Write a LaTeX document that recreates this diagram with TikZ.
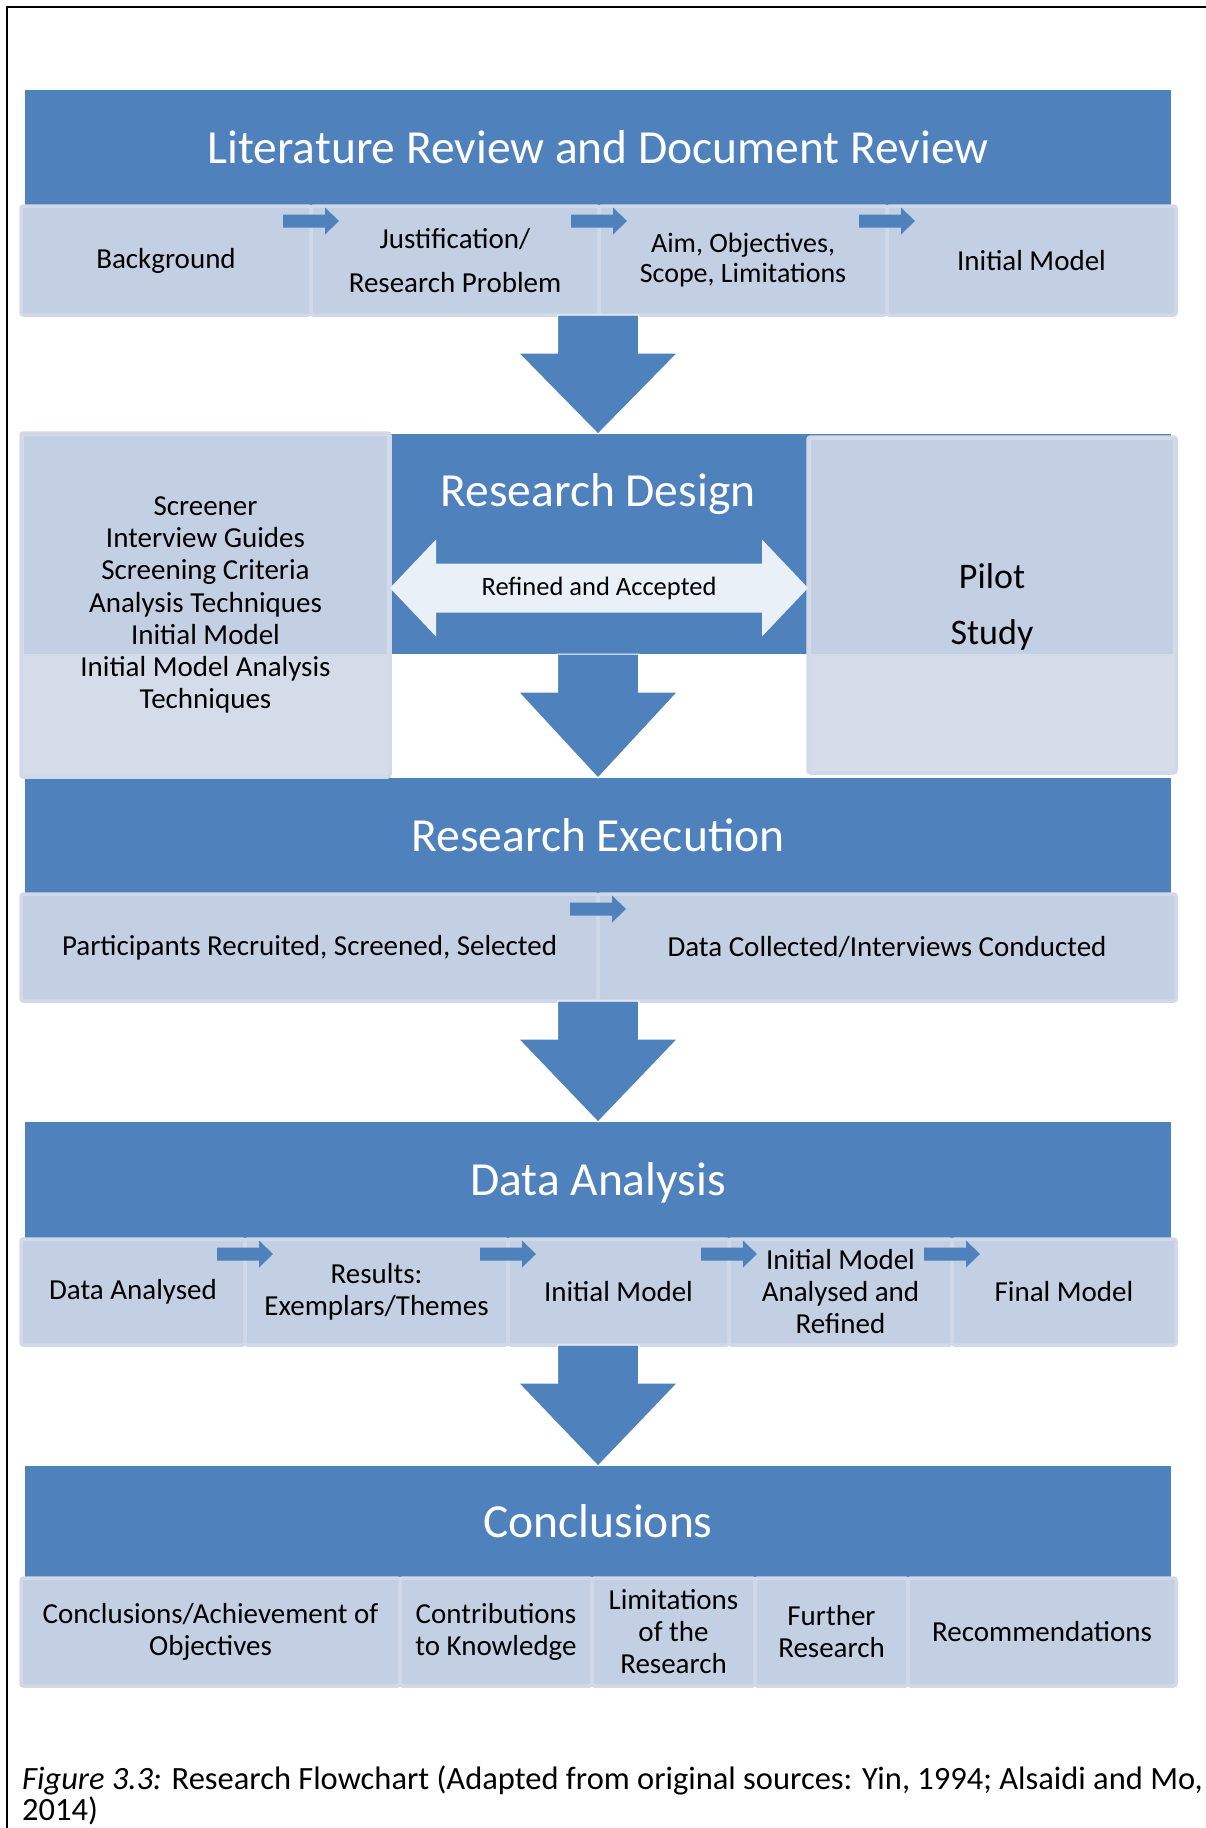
\documentclass[tikz,border=0pt]{standalone}
\usepackage{fontspec}
\setmainfont{Carlito}
\usetikzlibrary{calc}
\definecolor{blueband}{HTML}{4F81BD}
\definecolor{cellfill}{HTML}{C3CFE2}
\definecolor{edgecol}{HTML}{D1D9E8}
\definecolor{lowfill}{HTML}{D4DCEA}
\definecolor{arrowlight}{HTML}{EAF0F8}

% big downward block arrow from a shaft top point (#1) to its tip (#2)
\newcommand\blockdown[2]{%
  \fill[blueband, draw=white, line width=1pt]
    ($(#1)+(-40.5,0)$) -- ($(#1)+(40.5,0)$) -- ($(#1)+(40.5,38)$) --
    ($(#1)+(79.5,38)$) -- (#2) -- ($(#1)+(-79.5,38)$) --
    ($(#1)+(-40.5,38)$) -- cycle;}

\begin{document}
\begin{tikzpicture}[x=1pt, y=-1pt,
  band/.style={fill=blueband, inner sep=0pt, outer sep=0pt, anchor=north west,
    text=white, font=\fontsize{47.5}{50}\selectfont, text height=30.6pt, text depth=0pt},
  cell/.style={fill=cellfill, draw=edgecol, line width=3.5pt, rounded corners=2.5pt,
    inner sep=0pt, outer sep=0pt, anchor=north west, align=center,
    font=\fontsize{29}{32}\selectfont},
  sidebox/.style={fill=lowfill, draw=edgecol, line width=3.5pt, rounded corners=2.5pt,
    inner sep=0pt, outer sep=0pt, anchor=north west},
  smallarrow/.pic={\fill[blueband] (-28,-6.5) -- (14,-6.5) -- (14,-13.5) -- (28,0)
    -- (14,13.5) -- (14,6.5) -- (-28,6.5) -- cycle;},
]
\useasboundingbox (0,0) rectangle (1206,1828);

% ---------- title bands ----------
\node[band, minimum width=1146pt, minimum height=116pt] (b1) at (25,90) {Literature Review and Document Review};
\node[band, minimum width=1146pt, minimum height=220pt] (b2) at (25,434) {};
\node[text=white, font=\fontsize{47.5}{50}\selectfont, text height=30.6pt, text depth=0pt, inner sep=0pt] (rd) at (598,491) {Research Design};
\node[band, minimum width=1146pt, minimum height=116pt] (b3) at (25,778) {Research Execution};
\node[band, minimum width=1146pt, minimum height=117pt] (b4) at (25,1122) {Data Analysis};
\node[band, minimum width=1146pt, minimum height=112pt] (b5) at (25,1466) {Conclusions};

% ---------- row 1 ----------
\node[cell, minimum width=290pt, minimum height=109pt] (bg) at (21,206) {Background};
\node[cell, minimum width=288pt, minimum height=109pt, font=\fontsize{29}{44}\selectfont] (jus) at (311,206) {Justification/\\Research Problem};
\node[cell, minimum width=288pt, minimum height=109pt, font=\fontsize{28}{30}\selectfont] (aim) at (599,206) {Aim, Objectives,\\Scope, Limitations};
\node[cell, minimum width=289pt, minimum height=109pt] (im1) at (887,206) {Initial Model};
\pic at ($(bg.north east)+(0,15)$) {smallarrow};
\pic at ($(jus.north east)+(0,15)$) {smallarrow};
\pic at ($(aim.north east)+(0,15)$) {smallarrow};

% ---------- down arrows ----------
\blockdown{b2.north |- jus.south}{b2.north}
\blockdown{b2.south}{b3.north}

% ---------- research design side boxes ----------
\node[sidebox, minimum width=369pt, minimum height=344pt] (lb) at (21,433) {};
\fill[cellfill] ($(lb.north west)+(3,3)$) rectangle ($(lb.east |- b2.south)+(-3,0)$);
\node[align=center, font=\fontsize{29}{32.3}\selectfont, inner sep=0pt] (lbt) at (lb.center)
  {Screener\\Interview Guides\\Screening Criteria\\Analysis Techniques\\Initial Model\\Initial Model Analysis\\Techniques};

\node[sidebox, minimum width=368pt, minimum height=336pt] (rb) at (808,437) {};
\fill[cellfill] ($(rb.north west)+(3,3)$) rectangle ($(rb.east |- b2.south)+(-3,0)$);
\node[align=center, font=\fontsize{36}{56}\selectfont, inner sep=0pt] (pil) at ($(rb.center)+(0,2)$) {Pilot\\Study};

% double arrow between the side boxes
\coordinate (mid) at (599,588);
\coordinate (dl) at (lb.east |- mid);
\coordinate (dr) at (rb.west |- mid);
\fill[arrowlight] (dl) -- ($(dl)+(46,-48.5)$) -- ($(dl)+(46,-24.5)$) -- ($(dr)+(-46,-24.5)$)
  -- ($(dr)+(-46,-48.5)$) -- (dr) -- ($(dr)+(-46,48.5)$) -- ($(dr)+(-46,24.5)$)
  -- ($(dl)+(46,24.5)$) -- ($(dl)+(46,48.5)$) -- cycle;
\node[font=\fontsize{26.5}{30}\selectfont, inner sep=0pt] (ref) at (mid) {Refined and Accepted};

% ---------- row 3 ----------
\node[cell, minimum width=577pt, minimum height=107pt] (pr) at (21,894) {Participants Recruited, Screened, Selected};
\node[cell, minimum width=578pt, minimum height=107pt] (dc) at (598,894) {Data Collected/Interviews Conducted};
\pic at ($(pr.north east)+(0,15)$) {smallarrow};
\blockdown{pr.south east}{b4.north}

% ---------- row 4 ----------
\begin{scope}[every node/.append style={font=\fontsize{29}{31.5}\selectfont}]
\node[cell, minimum width=224pt, minimum height=106pt] (da) at (21,1239) {Data Analysed};
\node[cell, minimum width=263pt, minimum height=106pt] (res) at (245,1239) {Results:\\Exemplars/Themes};
\node[cell, minimum width=221pt, minimum height=106pt] (im2) at (508,1239) {Initial Model};
\node[cell, minimum width=223pt, minimum height=106pt] (imr) at (729,1239) {Initial Model\\Analysed and\\Refined};
\node[cell, minimum width=224pt, minimum height=106pt] (fm) at (952,1239) {Final Model};
\end{scope}
\pic at ($(da.north east)+(0,15)$) {smallarrow};
\pic at ($(res.north east)+(0,15)$) {smallarrow};
\pic at ($(im2.north east)+(0,15)$) {smallarrow};
\pic at ($(imr.north east)+(0,15)$) {smallarrow};
\blockdown{b4.south |- da.south}{b5.north}

% ---------- row 5 ----------
\begin{scope}[every node/.append style={font=\fontsize{29}{31}\selectfont}]
\node[cell, minimum width=379pt, minimum height=108pt] (con) at (21,1578) {Conclusions/Achievement of\\Objectives};
\node[cell, minimum width=192pt, minimum height=108pt] (ctb) at (400,1578) {Contributions\\to Knowledge};
\node[cell, minimum width=163pt, minimum height=108pt] (lim) at (592,1578) {Limitations\\of the\\Research};
\node[cell, minimum width=153pt, minimum height=108pt] (fur) at (755,1578) {Further\\Research};
\node[cell, minimum width=268pt, minimum height=108pt] (rec) at (908,1578) {Recommendations};
\end{scope}

% ---------- caption ----------
\node[anchor=base west, inner sep=0pt, font=\fontsize{32.5}{37}\selectfont] (cap1) at (22,1789)
  {\textit{Figure 3.3:} Research Flowchart (Adapted from original sources: Yin, 1994; Alsaidi and Mo,};
\node[anchor=base west, inner sep=0pt, font=\fontsize{32.5}{37}\selectfont] (cap2) at (22,1820) {2014)};

% ---------- frame ----------
\draw[line width=2.2pt] (7,1828) -- (7,7) -- (1206,7);
\end{tikzpicture}
\end{document}
